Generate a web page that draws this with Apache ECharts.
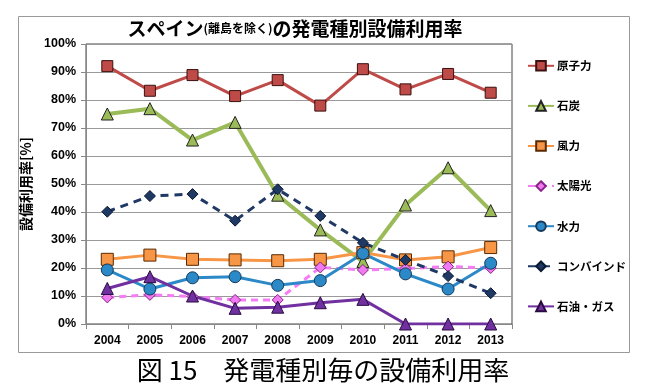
<!DOCTYPE html>
<html><head><meta charset="utf-8">
<script src="https://cdn.jsdelivr.net/npm/echarts@6/dist/echarts.min.js"></script>
<style>html,body{margin:0;padding:0;background:#fff}#c{width:646px;height:392px}</style>
</head><body><div id="c"></div>
<script>
const years = ['2004','2005','2006','2007','2008','2009','2010','2011','2012','2013'];
const nuclear = [92.1, 83.3, 88.9, 81.4, 87.1, 78.0, 91.0, 83.8, 89.3, 82.6];
const coal = [75.0, 76.9, 65.7, 72.0, 46.0, 33.6, 22.3, 42.5, 55.8, 40.5];
const wind = [23.1, 24.6, 23.1, 22.9, 22.6, 23.1, 25.5, 22.9, 24.0, 27.3];
const solar = [9.5, 10.4, 9.8, 8.6, 8.6, 20.2, 19.3, 19.8, 20.5, 20.0];
const hydro = [19.3, 12.5, 16.5, 16.9, 13.8, 15.5, 25.2, 17.9, 12.5, 21.7];
const combined = [40.1, 45.7, 46.4, 36.9, 48.1, 38.6, 29.0, 22.9, 17.1, 11.0];
const oilgas = [12.7, 16.9, 10.0, 5.6, 6.0, 7.6, 8.8, 0, 0, 0];
const yTicks = [0,10,20,30,40,50,60,70,80,90,100];

const chart = echarts.init(document.getElementById('c'));
const F = 'Arial, "Liberation Sans", "Noto Sans CJK JP", sans-serif';
const J = '"Noto Sans CJK JP", sans-serif';
function s(name, data, color, symbol, size, border, opts) {
  return Object.assign({
    name, type: 'line', data, symbol, symbolSize: size,
    lineStyle: {color, width: 3},
    itemStyle: {color, borderColor: border, borderWidth: 1},
    z: 3
  }, opts || {});
}
chart.setOption({
  animation: false,
  backgroundColor: '#fff',
  textStyle: {fontFamily: F},
  title: {
    text: 'スペイン{s|(離島を除く)}の発電種別設備利用率',
    left: 290, top: 14, textAlign: 'center',
    textStyle: {fontSize: 19, fontWeight: 'bold', color: '#000', fontFamily: J,
      rich: {s: {fontSize: 12, fontWeight: 'bold', color: '#000', fontFamily: J}}}
  },
  grid: {left: 86, top: 44, right: 134, bottom: 68, show: true, borderColor: '#444', borderWidth: 1},
  legend: {
    orient: 'vertical', left: 522, top: 55, itemWidth: 26, itemHeight: 12, itemGap: 28.5,
    textStyle: {fontSize: 11.5, fontWeight: 'bold', color: '#000', fontFamily: J, padding: [0, 0, 0, -2]},
    data: ['原子力','石炭','風力','太陽光','水力','コンバインド','石油・ガス']
  },
  xAxis: {
    type: 'category', data: years, boundaryGap: true,
    axisLine: {lineStyle: {color: '#888'}},
    axisTick: {show: true, length: 5, lineStyle: {color: '#888'}},
    axisLabel: {color: '#000', fontWeight: 'bold', fontSize: 12, margin: 11}
  },
  yAxis: {
    type: 'value', min: 0, max: 100, interval: 10,
    name: '設備利用率[%]', nameLocation: 'middle', nameGap: 46, nameRotate: 90,
    nameTextStyle: {fontSize: 14, fontWeight: 'bold', color: '#000', fontFamily: J},
    axisLine: {show: true, lineStyle: {color: '#888'}},
    axisTick: {show: true, length: 5, lineStyle: {color: '#888'}},
    splitLine: {lineStyle: {color: '#9a9a9a'}},
    axisLabel: {color: '#000', fontWeight: 'bold', fontSize: 12.5, margin: 10,
      formatter: v => yTicks.indexOf(v) >= 0 ? v + '%' : ''}
  },
  series: [
    s('原子力', nuclear, '#BE4B48', 'rect', 11, '#3a1010'),
    s('石炭', coal, '#9BBB59', 'triangle', 12, '#222', {lineStyle: {color: '#9BBB59', width: 4}}),
    s('風力', wind, '#F79646', 'rect', 12, '#5a2a00'),
    s('太陽光', solar, '#F47CF4', 'diamond', 11, '#8a208a', {lineStyle: {color: '#F47CF4', width: 3, type: [7, 5]}, itemStyle: {color: '#F07AF0', borderColor: '#8a208a', borderWidth: 1}}),
    s('水力', hydro, '#2C89C8', 'circle', 12, '#15395a'),
    s('コンバインド', combined, '#1F3864', 'diamond', 11, '#0a1a30', {lineStyle: {color: '#1F3864', width: 3, type: [8, 6]}}),
    s('石油・ガス', oilgas, '#7030A0', 'triangle', 12, '#2a0a40')
  ],
  graphic: [
    {type: 'rect', shape: {x: 18.5, y: 16.5, width: 611, height: 336}, style: {fill: 'none', stroke: '#999', lineWidth: 1}, z: -1},
    {type: 'text', left: 'center', top: 357, style: {text: '図 15　発電種別毎の設備利用率', fontSize: 26, fill: '#000', fontFamily: '"Noto Sans CJK JP", serif'}}
  ]
});
</script></body></html>
